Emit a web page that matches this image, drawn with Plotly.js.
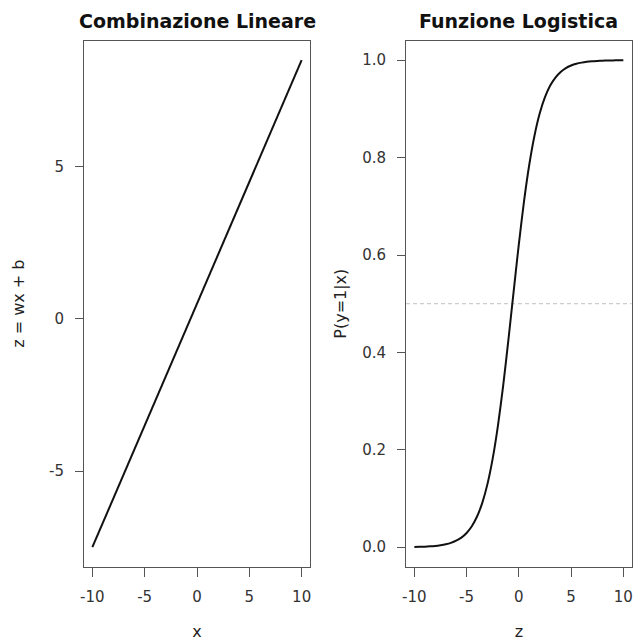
<!DOCTYPE html>
<html>
<head>
<meta charset="utf-8">
<script src="https://cdn.plot.ly/plotly-3.0.1.min.js"></script>
<style>html,body{margin:0;padding:0;background:#fff;}#plot{width:634px;height:641px;}</style>
</head>
<body>
<div id="plot"></div>
<script>
// Left panel: linear combination z = wx + b
const xValues = [-10, -5, 0, 5, 10];
const zLinear = [-7.5, -3.5, 0.5, 4.5, 8.5];

// Right panel: logistic function
const zValues = [-10, -9.5, -9, -8.5, -8, -7.5, -7, -6.5, -6, -5.5, -5, -4.5, -4, -3.5, -3, -2.5, -2, -1.5, -1, -0.5,
                 0, 0.5, 1, 1.5, 2, 2.5, 3, 3.5, 4, 4.5, 5, 5.5, 6, 6.5, 7, 7.5, 8, 8.5, 9, 9.5, 10];
const pValues = [0.0006, 0.0008, 0.0012, 0.0018, 0.0027, 0.0041, 0.0061, 0.0090, 0.0134, 0.0198, 0.0293, 0.0431,
                 0.0630, 0.0911, 0.1301, 0.1824, 0.2497, 0.3318, 0.4256, 0.5250, 0.6225, 0.7110, 0.7858, 0.8455,
                 0.8909, 0.9241, 0.9478, 0.9644, 0.9759, 0.9837, 0.9890, 0.9926, 0.9950, 0.9967, 0.9978, 0.9985,
                 0.9990, 0.9993, 0.9996, 0.9997, 0.9998];
const threshold = 0.5;

const xTicks = [-10, -5, 0, 5, 10];
const xTickText = ["-10", "-5", "0", "5", "10"];
const zTicksLeft = [-5, 0, 5];
const zTickTextLeft = ["-5", "0", "5"];
const pTicks = [0, 0.2, 0.4, 0.6, 0.8, 1.0];
const pTickText = ["0.0", "0.2", "0.4", "0.6", "0.8", "1.0"];

const titles = ["Combinazione Lineare", "Funzione Logistica"];
const xLabels = ["x", "z"];
const yLabels = ["z = wx + b", "P(y=1|x)"];

const FONT = "DejaVu Sans, sans-serif";
const boxColor = "#555555";
const tickColor = "#555555";

const traces = [
  {x: xValues, y: zLinear, type: "scatter", mode: "lines",
   line: {color: "#111111", width: 2}, xaxis: "x", yaxis: "y", hoverinfo: "skip"},
  {x: [-10.8, 10.8], y: [threshold, threshold], type: "scatter", mode: "lines",
   line: {color: "#cccccc", width: 1.2, dash: "4px,3px"}, xaxis: "x2", yaxis: "y2", hoverinfo: "skip"},
  {x: zValues, y: pValues, type: "scatter", mode: "lines",
   line: {color: "#111111", width: 2, shape: "spline", smoothing: 0.6}, xaxis: "x2", yaxis: "y2", hoverinfo: "skip"}
];

function xAxis(domain, anchor, title) {
  return {
    domain: domain, anchor: anchor, range: [-10.8, 10.8],
    tickmode: "array", tickvals: xTicks, ticktext: xTickText,
    ticks: "outside", ticklen: 9, tickwidth: 1, tickcolor: tickColor,
    showline: true, mirror: true, linecolor: boxColor, linewidth: 1,
    showgrid: false, zeroline: false,
    tickfont: {family: FONT, size: 15, color: "#333333"},
    ticklabelstandoff: 7,
    title: {text: title, font: {family: FONT, size: 16, color: "#222222"}, standoff: 26},
    automargin: false, fixedrange: true
  };
}
function yAxis(domain, anchor, range, tickvals, ticktext, title, standoff) {
  return {
    domain: domain, anchor: anchor, range: range,
    tickmode: "array", tickvals: tickvals, ticktext: ticktext,
    ticks: "outside", ticklen: 8, tickwidth: 1, tickcolor: tickColor,
    showline: true, mirror: true, linecolor: boxColor, linewidth: 1,
    showgrid: false, zeroline: false,
    tickfont: {family: FONT, size: 15, color: "#333333"},
    ticklabelstandoff: 8,
    title: {text: title, font: {family: FONT, size: 16, color: "#222222"}, standoff: standoff},
    automargin: false, fixedrange: true
  };
}

const yDom = [(641 - 566.7) / 641, (641 - 40.7) / 641];
const layout = {
  width: 634, height: 641,
  margin: {l: 0, r: 0, t: 0, b: 0},
  paper_bgcolor: "#ffffff", plot_bgcolor: "#ffffff",
  showlegend: false,
  font: {family: FONT, color: "#222222"},
  xaxis: xAxis([84 / 634, 310 / 634], "y", xLabels[0]),
  yaxis: yAxis(yDom, "x", [-8.14, 9.14], zTicksLeft, zTickTextLeft, yLabels[0], 20),
  xaxis2: xAxis([406 / 634, 631.7 / 634], "y2", xLabels[1]),
  yaxis2: yAxis(yDom, "x2", [-0.04, 1.04], pTicks, pTickText, yLabels[1], 11),
  annotations: [
    {text: "<b>" + titles[0] + "</b>", x: 197 / 634, y: 1 - 20.7 / 641, xref: "paper", yref: "paper",
     xanchor: "center", yanchor: "middle", showarrow: false, font: {family: FONT, size: 19, color: "#111111"}},
    {text: "<b>" + titles[1] + "</b>", x: 518 / 634, y: 1 - 20.7 / 641, xref: "paper", yref: "paper",
     xanchor: "center", yanchor: "middle", showarrow: false, font: {family: FONT, size: 19, color: "#111111"}}
  ]
};

Plotly.newPlot("plot", traces, layout, {displayModeBar: false, staticPlot: true});
</script>
</body>
</html>
